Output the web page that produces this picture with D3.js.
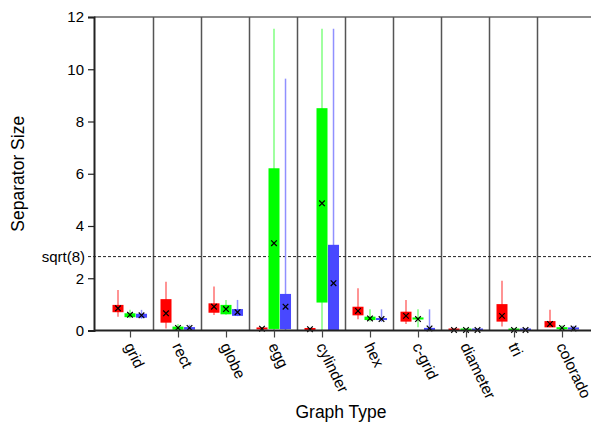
<!DOCTYPE html>
<meta charset="utf-8">
<head>
    <script src="https://d3js.org/d3.v7.min.js"></script>
    <style>
        body { margin: 0; background: #fff; }
        text { font-family: "Liberation Sans", Arial, Helvetica, sans-serif; fill: #000; }
    </style>
</head>
<body>
<div id="graph"></div>
<script>
    // data: each stat row is [whisker low, box low, mean (x), box high, whisker high]
    var categories = ["grid", "rect", "globe", "egg", "cylinder", "hex", "c-grid", "diameter", "tri", "colorado"];
    var redStats = [
        [0.53, 0.70, 0.85, 0.98, 1.55],
        [0.08, 0.30, 0.66, 1.20, 1.87],
        [0.59, 0.68, 0.91, 1.04, 1.68],
        [0.00, 0.04, 0.07, 0.10, 0.12],
        [0.00, 0.02, 0.05, 0.07, 0.10],
        [0.43, 0.58, 0.75, 0.91, 1.62],
        [0.25, 0.34, 0.56, 0.72, 1.17],
        [0.00, 0.00, 0.02, 0.04, 0.05],
        [0.15, 0.34, 0.56, 1.01, 1.90],
        [0.12, 0.12, 0.25, 0.36, 0.79]
    ];
    var greenStats = [
        [0.47, 0.51, 0.60, 0.66, 0.79],
        [0.00, 0.03, 0.10, 0.15, 0.25],
        [0.60, 0.62, 0.82, 0.98, 1.17],
        [0.00, 0.06, 3.34, 6.21, 11.55],
        [0.00, 1.07, 4.87, 8.51, 11.55],
        [0.34, 0.40, 0.46, 0.53, 0.81],
        [0.12, 0.42, 0.44, 0.50, 0.81],
        [0.00, 0.00, 0.02, 0.04, 0.05],
        [0.00, 0.00, 0.02, 0.04, 0.06],
        [0.00, 0.05, 0.10, 0.12, 0.20]
    ];
    var blueStats = [
        [0.45, 0.49, 0.58, 0.64, 0.79],
        [0.00, 0.03, 0.10, 0.13, 0.22],
        [0.55, 0.56, 0.70, 0.82, 1.17],
        [0.00, 0.05, 0.91, 1.40, 9.64],
        [0.00, 0.02, 1.81, 3.28, 11.55],
        [0.33, 0.40, 0.44, 0.45, 0.81],
        [0.00, 0.00, 0.08, 0.10, 0.81],
        [0.00, 0.00, 0.02, 0.04, 0.05],
        [0.00, 0.00, 0.02, 0.04, 0.06],
        [0.00, 0.04, 0.08, 0.11, 0.18]
    ];
    var yTicks = [0, 2, 4, 6, 8, 10, 12];
    var refValue = Math.sqrt(8);
    var refLabel = "sqrt(8)";

    var series = [
        {stats: redStats, box: "#ff0000", whisker: "#ff7070", off: -0.25},
        {stats: greenStats, box: "#00ff00", whisker: "#80ff80", off: 0},
        {stats: blueStats, box: "#4848ff", whisker: "#9090ff", off: 0.24}
    ];

    var W = 591, H = 423;
    var svg = d3.select("#graph").append("svg")
        .attr("width", W).attr("height", H);

    var x = d3.scaleLinear().domain([-0.75, 9.75]).range([94, 598]);
    var y = d3.scaleLinear().domain([0, 12]).range([330.5, 17]);
    var boxW = 11;

    // top border
    svg.append("line")
        .attr("x1", x(-0.75)).attr("x2", W)
        .attr("y1", y(12)).attr("y2", y(12))
        .attr("stroke", "#666").attr("stroke-width", 1.5);

    // group separators
    svg.selectAll(".sep")
        .data(d3.range(categories.length - 1))
        .enter().append("line")
        .attr("x1", function(i) { return x(i + 0.5) - 0.5; })
        .attr("x2", function(i) { return x(i + 0.5) - 0.5; })
        .attr("y1", y(12)).attr("y2", y(0))
        .attr("stroke", "#555").attr("stroke-width", 1.5);

    // reference line
    svg.append("line")
        .attr("x1", x(-0.75) - 6).attr("x2", W)
        .attr("y1", y(refValue)).attr("y2", y(refValue))
        .attr("stroke", "#222").attr("stroke-width", 1)
        .attr("stroke-dasharray", "3,2");
    svg.append("text")
        .attr("x", x(-0.75) - 9).attr("y", y(refValue))
        .attr("dy", "0.35em")
        .attr("text-anchor", "end")
        .style("font-size", "15px")
        .text(refLabel);

    // boxes
    series.forEach(function(s) {
        var g = svg.append("g");
        s.stats.forEach(function(d, i) {
            var cx = x(i + s.off);
            g.append("line")
                .attr("x1", cx).attr("x2", cx)
                .attr("y1", y(d[0])).attr("y2", y(d[4]))
                .attr("stroke", s.whisker).attr("stroke-width", 1.5);
            var top = y(d[3]), bot = y(d[1]);
            var h = Math.max(bot - top, 2);
            g.append("rect")
                .attr("x", cx - boxW / 2).attr("y", bot - h)
                .attr("width", boxW).attr("height", h)
                .attr("fill", s.box);
            var my = y(d[2]), k = 2.8;
            g.append("path")
                .attr("d", "M" + (cx - k) + "," + (my - k) + "L" + (cx + k) + "," + (my + k) +
                           "M" + (cx - k) + "," + (my + k) + "L" + (cx + k) + "," + (my - k))
                .attr("stroke", "#000").attr("stroke-width", 1.2);
        });
    });

    // y axis
    var yAxis = svg.append("g")
        .attr("transform", "translate(" + x(-0.75) + ",0)")
        .call(d3.axisLeft(y).tickValues(yTicks).tickSize(6).tickPadding(4));
    yAxis.select(".domain").attr("stroke", "#222").attr("stroke-width", 2);
    yAxis.selectAll(".tick line").attr("stroke", "#222").attr("stroke-width", 1.2);
    yAxis.selectAll("text").style("font-size", "15px")
        .style("font-family", "Liberation Sans, Arial, sans-serif").attr("fill", "#000");

    // x axis
    var xAxis = svg.append("g")
        .attr("transform", "translate(0," + y(0) + ")")
        .call(d3.axisBottom(x).tickValues(d3.range(categories.length)).tickSize(7).tickFormat(""));
    xAxis.select(".domain").attr("d", "M" + x(-0.75) + ",0H" + W)
        .attr("stroke", "#222").attr("stroke-width", 2);
    xAxis.selectAll(".tick line").attr("stroke", "#444").attr("stroke-width", 1.2);

    svg.selectAll(".xlab")
        .data(categories)
        .enter().append("text")
        .attr("transform", function(d, i) {
            return "translate(" + (x(i) - 6) + ",346) rotate(64)";
        })
        .style("font-size", "15.5px")
        .text(function(d) { return d; });

    // axis titles
    svg.append("text")
        .attr("transform", "translate(24," + y(6) + ") rotate(-90)")
        .attr("text-anchor", "middle")
        .style("font-size", "17.5px")
        .text("Separator Size");
    svg.append("text")
        .attr("x", 341).attr("y", 418)
        .attr("text-anchor", "middle")
        .style("font-size", "17.5px")
        .text("Graph Type");
</script>
</body>
